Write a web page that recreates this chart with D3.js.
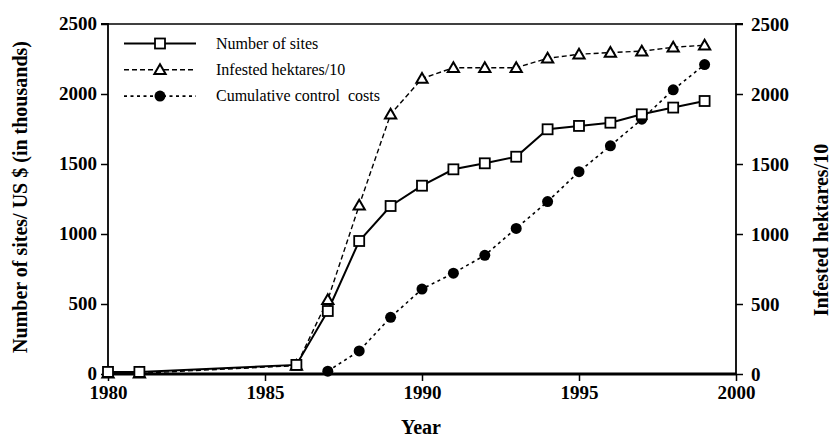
<!DOCTYPE html>
<html><head><meta charset="utf-8">
<script src="https://cdn.jsdelivr.net/npm/d3@7"></script>
<style>body{margin:0;background:#fff}svg{display:block}text{font-family:"Liberation Serif","Times New Roman",serif}</style>
</head><body>
<svg id="c" width="833" height="439"></svg>
<script>
const years = [1980,1981,1986,1987,1988,1989,1990,1991,1992,1993,1994,1995,1996,1997,1998,1999];
const sites = [15,15,65,450,950,1200,1345,1462,1505,1552,1748,1772,1795,1855,1903,1950];
const infestedYears = [1980,1981,1986,1987,1988,1989,1990,1991,1992,1993,1994,1995,1996,1997,1998,1999];
const infested = [5,5,60,530,1205,1855,2110,2188,2188,2188,2255,2284,2296,2306,2334,2348];
const costYears = [1987,1988,1989,1990,1991,1992,1993,1994,1995,1996,1997,1998,1999];
const costs = [20,165,405,607,720,848,1040,1232,1445,1630,1820,2030,2210];
const xTicks = [1980,1985,1990,1995,2000];
const yTicks = [0,500,1000,1500,2000,2500];

const svg = d3.select("#c");
const L=108, R=736, T=24, B=374;
const x = d3.scaleLinear().domain([1980,2000]).range([L,R]);
const y = d3.scaleLinear().domain([0,2500]).range([B,T]);
const font = "Liberation Serif, Times New Roman, serif";

svg.append("line").attr("x1",L).attr("x2",R).attr("y1",T).attr("y2",T).attr("stroke","#000").attr("stroke-width",1.5);

const gL = svg.append("g").attr("transform",`translate(${L},0)`).call(d3.axisLeft(y).tickValues(yTicks).tickSize(7).tickPadding(4).tickFormat(d3.format("d")));
const gR = svg.append("g").attr("transform",`translate(${R},0)`).call(d3.axisRight(y).tickValues(yTicks).tickSize(7).tickPadding(8).tickFormat(d3.format("d")));
const gB = svg.append("g").attr("transform",`translate(0,${B})`).call(d3.axisBottom(x).tickValues(xTicks).tickSize(7).tickPadding(5).tickFormat(d3.format("d")));
[gL,gR,gB].forEach(g=>{
  g.attr("font-family",null).style("font-family",font);
  g.select(".domain").attr("stroke","#000").attr("stroke-width",1.8);
  g.selectAll(".tick line").attr("stroke","#000").attr("stroke-width",1.5);
  g.selectAll("text").style("font-family",font).attr("font-weight","bold").attr("font-size",19).attr("fill","#000");
});
gL.selectAll("text").attr("dy","0.3em");
gB.select(".domain").attr("stroke-width",3.2);
gL.selectAll(".domain").attr("d",`M-7,${T}H0V${B}`);
gR.selectAll(".domain").attr("d",`M7,${T}H0V${B}`);
gB.selectAll(".domain").attr("d",`M${L},0H${R}`);

const infPts = infestedYears.map((d,i)=>[d,infested[i]]);
const sitePts = years.map((d,i)=>[d,sites[i]]);
const costPts = costYears.map((d,i)=>[d,costs[i]]);
const line = d3.line().x(d=>x(d[0])).y(d=>y(d[1]));

svg.append("path").attr("d",line(infPts)).attr("fill","none").attr("stroke","#000").attr("stroke-width",1.4).attr("stroke-dasharray","5,3");
svg.append("path").attr("d",line(costPts)).attr("fill","none").attr("stroke","#000").attr("stroke-width",1.6).attr("stroke-dasharray","3,3.5");
svg.append("path").attr("d",line(sitePts)).attr("fill","none").attr("stroke","#000").attr("stroke-width",2);

const tri = d3.symbol().type(d3.symbolTriangle).size(55);
svg.selectAll(".tri").data(infPts).join("path")
  .attr("transform",d=>`translate(${x(d[0])},${y(d[1])+1})`).attr("d",tri())
  .attr("fill","#fff").attr("stroke","#000").attr("stroke-width",2);
svg.selectAll(".cir").data(costPts).join("circle")
  .attr("cx",d=>x(d[0])).attr("cy",d=>y(d[1])).attr("r",5.5).attr("fill","#000");
svg.selectAll(".sq").data(sitePts).join("rect")
  .attr("x",d=>x(d[0])-5).attr("y",d=>y(d[1])-5).attr("width",10).attr("height",10)
  .attr("fill","#fff").attr("stroke","#000").attr("stroke-width",1.8);

const legend = [
  {label:"Number of sites", dash:null, sw:2, m:"sq"},
  {label:"Infested hektares/10", dash:"5,3", sw:1.4, m:"tri"},
  {label:"Cumulative control\u00a0 costs", dash:"3,3.5", sw:1.6, m:"cir"}
];
const lg = svg.append("g");
legend.forEach((d,i)=>{
  const yy = 43.5 + i*26.3;
  lg.append("line").attr("x1",124).attr("x2",196).attr("y1",yy).attr("y2",yy)
    .attr("stroke","#000").attr("stroke-width",d.sw).attr("stroke-dasharray",d.dash);
  if(d.m==="sq") lg.append("rect").attr("x",155).attr("y",yy-5).attr("width",10).attr("height",10).attr("fill","#fff").attr("stroke","#000").attr("stroke-width",1.8);
  if(d.m==="tri") lg.append("path").attr("transform",`translate(160,${yy+1})`).attr("d",tri()).attr("fill","#fff").attr("stroke","#000").attr("stroke-width",2);
  if(d.m==="cir") lg.append("circle").attr("cx",160).attr("cy",yy).attr("r",5.5).attr("fill","#000");
  lg.append("text").attr("x",216).attr("y",yy+5).text(d.label)
    .style("font-family",font).attr("font-size",16).attr("fill","#000");
});

svg.append("text").attr("x",(L+R)/2-1).attr("y",434).attr("text-anchor","middle")
  .style("font-family",font).attr("font-weight","bold").attr("font-size",20).text("Year");
svg.append("text").attr("transform","translate(27,197) rotate(-90)").attr("text-anchor","middle")
  .style("font-family",font).attr("font-weight","bold").attr("font-size",20).text("Number of sites/ US $ (in thousands)");
svg.append("text").attr("transform","translate(828,230) rotate(-90)").attr("text-anchor","middle")
  .style("font-family",font).attr("font-weight","bold").attr("font-size",20).text("Infested hektares/10");
</script>
</body></html>
